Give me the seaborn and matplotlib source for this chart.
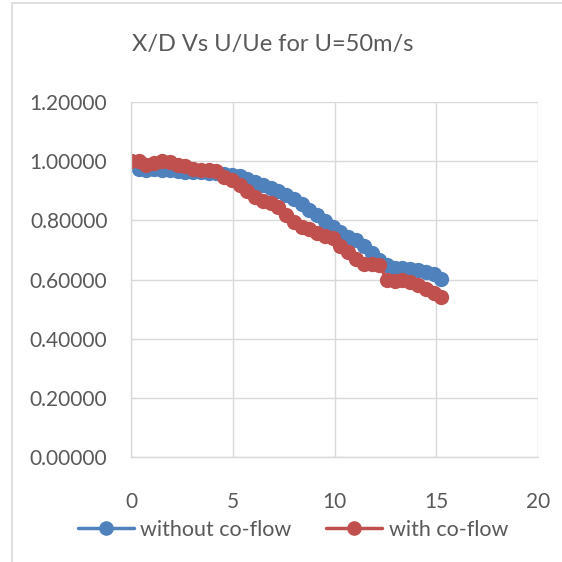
import numpy as np
import pandas as pd
import matplotlib
matplotlib.use("Agg")
import matplotlib.pyplot as plt
import seaborn as sns
from matplotlib.patches import Rectangle

x_d = [0.00, 0.38, 0.76, 1.14, 1.53, 1.91, 2.29, 2.67, 3.05, 3.43,
       3.81, 4.19, 4.58, 4.96, 5.34, 5.72, 6.10, 6.48, 6.86, 7.24,
       7.63, 8.01, 8.39, 8.77, 9.15, 9.53, 9.91, 10.29, 10.68, 11.06,
       11.44, 11.82, 12.20, 12.58, 12.96, 13.34, 13.73, 14.11, 14.49, 14.87,
       15.25]

without_coflow = [1.000, 0.972, 0.970, 0.972, 0.971, 0.969, 0.967, 0.965, 0.963, 0.962,
                  0.961, 0.959, 0.957, 0.954, 0.949, 0.940, 0.930, 0.921, 0.910, 0.899,
                  0.887, 0.871, 0.856, 0.836, 0.817, 0.799, 0.778, 0.759, 0.744, 0.734,
                  0.714, 0.690, 0.666, 0.650, 0.640, 0.638, 0.636, 0.632, 0.626, 0.618,
                  0.603]

with_coflow = [1.000, 1.000, 0.988, 0.994, 1.002, 0.998, 0.988, 0.982, 0.975, 0.971,
               0.969, 0.967, 0.948, 0.937, 0.920, 0.898, 0.880, 0.864, 0.860, 0.845,
               0.818, 0.793, 0.779, 0.770, 0.758, 0.748, 0.740, 0.712, 0.692, 0.670,
               0.652, 0.652, 0.650, 0.597, 0.596, 0.598, 0.593, 0.580, 0.568, 0.556,
               0.542]

series_names = ["without co-flow", "with co-flow"]
x_ticks = [0, 5, 10, 15, 20]
y_ticks = [0.0, 0.2, 0.4, 0.6, 0.8, 1.0, 1.2]
title = "X/D Vs U/Ue for U=50m/s"

df = pd.DataFrame({
    "x": x_d * 2,
    "y": without_coflow + with_coflow,
    "series": [series_names[0]] * len(x_d) + [series_names[1]] * len(x_d),
})

sns.set_theme(style="white")
plt.rcParams["font.family"] = ["Lato", "DejaVu Sans"]

fig = plt.figure(figsize=(5.62, 5.62), dpi=100)
ax = fig.add_axes([131 / 562, 1 - 457 / 562, (538 - 131) / 562, (457 - 102) / 562])

palette = {series_names[0]: "#4F81BD", series_names[1]: "#C0504D"}
sns.lineplot(data=df, x="x", y="y", hue="series", palette=palette,
             marker="o", markersize=11, markeredgewidth=0, linewidth=2.5,
             sort=False, ax=ax, legend=True)

ax.set_xlim(0, 20)
ax.set_ylim(0, 1.2)
ax.set_xticks(x_ticks)
ax.set_yticks(y_ticks)
ax.set_yticklabels([f"{v:.5f}" for v in y_ticks])
ax.set_xlabel("")
ax.set_ylabel("")
ax.grid(True, color="#d9d9d9", linewidth=1)
ax.set_axisbelow(True)
for s in ["top", "right"]:
    ax.spines[s].set_visible(False)
for s in ["left", "bottom"]:
    ax.spines[s].set_color("#d9d9d9")
    ax.spines[s].set_linewidth(1)
ax.tick_params(axis="both", length=0, labelsize=15, colors="#595959")
ax.tick_params(axis="x", pad=25)
ax.tick_params(axis="y", pad=17)

fig.text(273 / 562, 1 - 45 / 562, title, ha="center", va="center",
         fontsize=17, color="#595959")

handles, labels = ax.get_legend_handles_labels()
leg = ax.legend(handles, labels, loc="center", bbox_to_anchor=(293 / 562, (562 - 530) / 562),
                bbox_transform=fig.transFigure, ncol=2, frameon=False, fontsize=15.5,
                handlelength=2.6, handletextpad=0.3, columnspacing=1.6, labelcolor="#595959")
for h in leg.legend_handles:
    h.set_markersize(10.5)

fig.patches.append(Rectangle((12 / 562, -0.1), 1.2, 1 - 3 / 562 + 0.1, transform=fig.transFigure,
                             fill=False, edgecolor="#d9d9d9", linewidth=1.2))

fig.savefig("out.png", dpi=100)
